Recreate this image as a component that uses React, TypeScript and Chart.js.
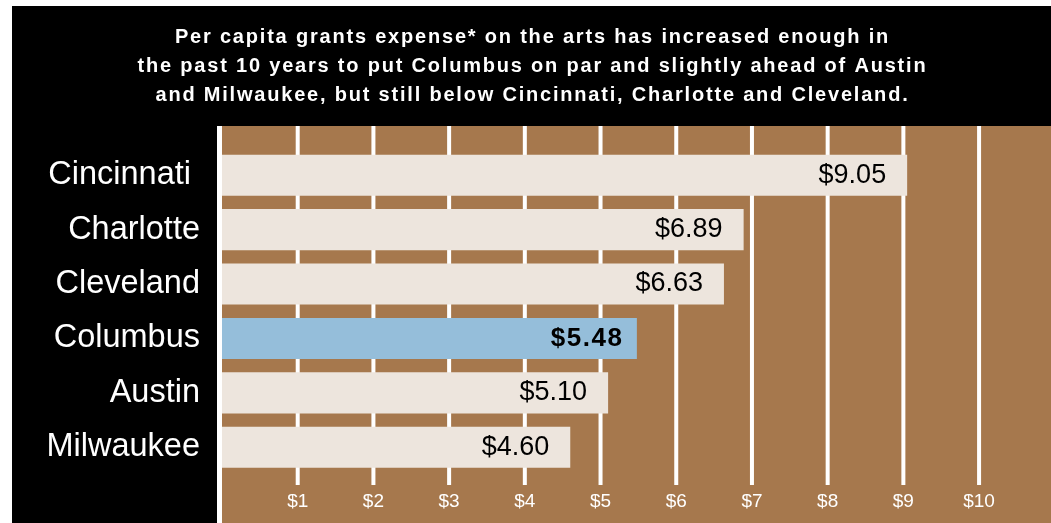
import { useEffect, useRef } from 'react';
import { Chart, registerables } from 'chart.js';

Chart.register(...registerables);

const titleLines = [
  'Per capita grants expense* on the arts has increased enough in',
  'the past 10 years to put Columbus on par and slightly ahead of Austin',
  'and Milwaukee, but still below Cincinnati, Charlotte and Cleveland.',
];
const cities = ['Cincinnati ', 'Charlotte', 'Cleveland', 'Columbus', 'Austin', 'Milwaukee'];
const grantsPerCapita = [9.05, 6.89, 6.63, 5.48, 5.1, 4.6];
const highlightCity = 'Columbus';
const xTickValues = [1, 2, 3, 4, 5, 6, 7, 8, 9, 10];
const xMax = 10.95;

const FONT = '"Liberation Sans", Arial, sans-serif';
const PAGE = '#ffffff';
const PANEL = '#000000';
const PLOT = '#A6784D';
const BAR = '#EDE5DD';
const HIGHLIGHT = '#95BEDA';
const GRID = '#ffffff';

const PANEL_LEFT = 12;
const PANEL_TOP = 6;
const PLOT_TOP = 126;
const GRID_BOTTOM = 485;

const backdropPlugin = {
  id: 'backdrop',
  beforeDraw(chart: any) {
    const { ctx, width, height, chartArea } = chart;
    ctx.save();
    ctx.fillStyle = PAGE;
    ctx.fillRect(0, 0, width, height);
    ctx.fillStyle = PANEL;
    ctx.fillRect(PANEL_LEFT, PANEL_TOP, width - PANEL_LEFT, height - PANEL_TOP);
    const left = chartArea.left;
    ctx.fillStyle = PLOT;
    ctx.fillRect(left, PLOT_TOP, width - left, height - PLOT_TOP);
    ctx.fillStyle = GRID;
    ctx.fillRect(left - 5, PLOT_TOP, 5, height - PLOT_TOP);
    ctx.fillStyle = '#ffffff';
    ctx.font = `bold 20px ${FONT}`;
    (ctx as any).letterSpacing = '1.8px';
    ctx.textAlign = 'center';
    ctx.textBaseline = 'middle';
    titleLines.forEach((line, i) => {
      ctx.fillText(line, (PANEL_LEFT + width) / 2 + 1, 37 + i * 29);
    });
    ctx.restore();
  },
  beforeDatasetsDraw(chart: any) {
    const { ctx } = chart;
    const xScale = chart.scales.x;
    ctx.save();
    ctx.strokeStyle = GRID;
    ctx.lineWidth = 4;
    xTickValues.forEach((v) => {
      const px = xScale.getPixelForValue(v);
      ctx.beginPath();
      ctx.moveTo(px, PLOT_TOP);
      ctx.lineTo(px, GRID_BOTTOM);
      ctx.stroke();
    });
    ctx.restore();
  },
  afterDatasetsDraw(chart: any) {
    const { ctx } = chart;
    const meta = chart.getDatasetMeta(0);
    ctx.save();
    ctx.fillStyle = '#000000';
    ctx.textAlign = 'right';
    ctx.textBaseline = 'middle';
    meta.data.forEach((bar: any, i: number) => {
      const bold = cities[i] === highlightCity;
      ctx.font = `${bold ? 'bold 26px' : '27px'} ${FONT}`;
      (ctx as any).letterSpacing = bold ? '1.5px' : '0px';
      ctx.fillText(`$${grantsPerCapita[i].toFixed(2)}`, bar.x - (bold ? 13.5 : 21), bar.y);
    });
    ctx.restore();
  },
};

export default function App() {
  const canvasRef = useRef<HTMLCanvasElement | null>(null);

  useEffect(() => {
    document.body.style.margin = '0';
    const canvas = canvasRef.current;
    if (!canvas) return;
    const chart = new Chart(canvas, {
      type: 'bar',
      data: {
        labels: cities,
        datasets: [
          {
            data: grantsPerCapita,
            backgroundColor: cities.map((c) => (c === highlightCity ? HIGHLIGHT : BAR)),
            borderWidth: 0,
            barPercentage: 0.755,
            categoryPercentage: 1,
          },
        ],
      },
      plugins: [backdropPlugin],
      options: {
        indexAxis: 'y',
        responsive: false,
        animation: false,
        devicePixelRatio: 1,
        events: [],
        layout: { padding: { top: 148, left: 0, right: 0, bottom: 0 } },
        plugins: {
          legend: { display: false },
          tooltip: { enabled: false },
          title: { display: false },
        },
        scales: {
          x: {
            type: 'linear',
            min: 0,
            max: xMax,
            afterBuildTicks: (scale: any) => {
              scale.ticks = xTickValues.map((v) => ({ value: v }));
            },
            afterFit: (scale: any) => {
              scale.height = 48.5;
            },
            grid: { display: false, drawTicks: false },
            border: { display: false },
            ticks: {
              color: '#ffffff',
              padding: 16,
              font: { family: FONT, size: 19 },
              callback: (v: any) => `$${v}`,
            },
          },
          y: {
            type: 'category',
            afterFit: (scale: any) => {
              scale.width = 222;
            },
            grid: { display: false, drawTicks: false },
            border: { display: false },
            ticks: {
              color: '#ffffff',
              padding: 22,
              font: { family: FONT, size: 32.5 },
            },
          },
        },
      },
    });
    return () => chart.destroy();
  }, []);

  return (
    <div style={{ width: 1051, height: 523 }}>
      <canvas ref={canvasRef} width={1051} height={523} style={{ display: 'block', width: 1051, height: 523 }} />
    </div>
  );
}
